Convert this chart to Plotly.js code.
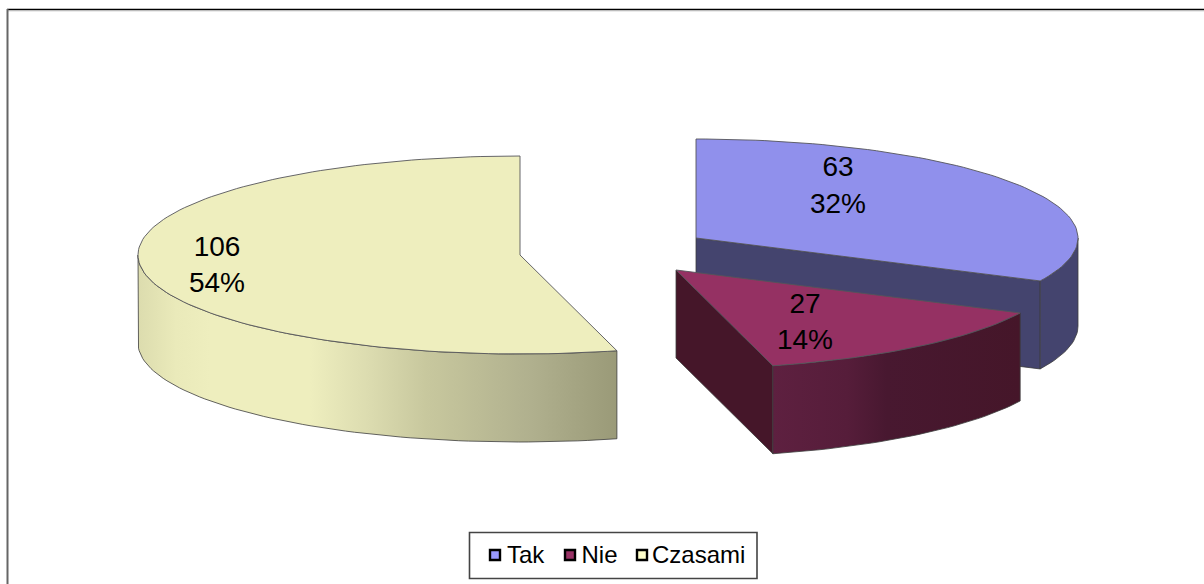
<!DOCTYPE html>
<html><head><meta charset="utf-8">
<script src="https://cdn.plot.ly/plotly-3.0.1.min.js"></script>
<style>html,body{margin:0;padding:0;background:#fff;overflow:hidden}</style>
</head><body><div id="chart" style="width:1204px;height:584px"></div>
<script>
const categories = ["Tak", "Nie", "Czasami"];
const counts = [63, 27, 106];
const topColors = ["#9090ec", "#953163", "#eeeebe"];
const swatchColors = ["#9999ff", "#993366", "#ffffcc"];
const wallColors = ["#44446e", "#451629", "#eeeebe"];

// 3D projection of the pie (pixel-like axis units)
const RX = 382, RY = 99, DEPTH = 88;
const centers = [[696, 238], [676, 270], [520, 255]];
const labelSpots = [[838, 187.5], [805, 324], [217, 267]];
const legendX = [495, 570, 642];
const legendTextX = [507, 581.5, 652];
const legendY = 555;
const legendTextY = 557;
const sideScales = [
  [[0, "#44446e"], [1, "#44446e"]],
  [[0, "#5e2040"], [0.3, "#561d3a"], [0.46, "#481830"], [1, "#451629"]],
  [[0, "#dcdcae"], [0.08, "#eaeaba"], [0.15, "#eeeebe"], [0.36, "#eeeebe"], [0.48, "#dcdcb0"], [0.6, "#c8c89e"], [0.82, "#b0b08e"], [1, "#9a9a78"]]
];

const total = counts.reduce((a, b) => a + b, 0);
const rad = d => d * Math.PI / 180;
const traces = [];
let acc = 0;
const slices = counts.map(v => { const s = acc; acc += v; return [s / total * 360, acc / total * 360]; });
const pt = (i, t, dz) => [centers[i][0] + RX * Math.sin(rad(t)), centers[i][1] - RY * Math.cos(rad(t)) + (dz || 0)];
function arc(i, a, b, dz) {
  const out = [], n = Math.max(2, Math.ceil(Math.abs(b - a) / 1.5));
  for (let k = 0; k <= n; k++) out.push(pt(i, a + (b - a) * k / n, dz));
  return out;
}
function poly(points, extra) {
  traces.push(Object.assign({
    type: "scatter", mode: "lines", x: points.map(p => p[0]), y: points.map(p => p[1]),
    fill: "toself", showlegend: false, hoverinfo: "skip",
    line: { color: "#3c3c3c", width: 0.8 }
  }, extra));
}
function drawSide(i, a, b) {
  const pts = arc(i, a, b, 0).concat(arc(i, b, a, DEPTH));
  pts.push(pts[0]);
  poly(pts, { fillcolor: wallColors[i], fillgradient: { type: "horizontal", colorscale: sideScales[i] } });
}
function drawWall(i, t) {
  const c = centers[i], e = pt(i, t, 0);
  poly([c, e, [e[0], e[1] + DEPTH], [c[0], c[1] + DEPTH], c], { fillcolor: wallColors[i] });
}
function drawTop(i) {
  const pts = [centers[i]].concat(arc(i, slices[i][0], slices[i][1], 0));
  pts.push(centers[i]);
  poly(pts, { fillcolor: topColors[i], line: { color: "#55555a", width: 0.9 } });
}
// paint back to front
drawWall(0, slices[0][1]); drawSide(0, 90, slices[0][1]); drawTop(0);
drawSide(2, slices[2][0], 270); drawTop(2);
drawWall(1, slices[1][1]); drawSide(1, slices[1][0], slices[1][1]); drawTop(1);

traces.push({
  type: "scatter", mode: "text", showlegend: false, hoverinfo: "skip",
  x: labelSpots.map(p => p[0]), y: labelSpots.map(p => p[1]),
  text: counts.map(v => v + "<br>" + Math.round(v / total * 100) + "%"),
  textposition: "middle center",
  textfont: { family: "Liberation Sans, Arial, sans-serif", size: 28, color: "#000" }
});
// legend row
traces.push({
  type: "scatter", mode: "markers", showlegend: false, hoverinfo: "skip",
  x: legendX, y: legendX.map(() => legendY),
  marker: { symbol: "square", size: 10, color: swatchColors, line: { color: "#000", width: 2.4 } }
});
traces.push({
  type: "scatter", mode: "text", showlegend: false, hoverinfo: "skip",
  x: legendTextX, y: legendTextX.map(() => legendTextY), text: categories, textposition: "middle right",
  textfont: { family: "Liberation Sans, Arial, sans-serif", size: 24, color: "#000" }
});

Plotly.newPlot("chart", traces, {
  width: 1204, height: 584, autosize: false,
  margin: { l: 0, r: 0, t: 0, b: 0, autoexpand: false },
  paper_bgcolor: "#fff", plot_bgcolor: "#fff",
  hovermode: false,
  xaxis: { range: [0, 1204], visible: false, fixedrange: true },
  yaxis: { range: [584, 0], visible: false, fixedrange: true },
  showlegend: false,
  shapes: [
    { type: "line", xref: "x", yref: "y", x0: 7, x1: 1204, y0: 9.5, y1: 9.5, line: { color: "#000", width: 1.6 } },
    { type: "line", xref: "x", yref: "y", x0: 7, x1: 1204, y0: 10.8, y1: 10.8, line: { color: "#bbb", width: 1 } },
    { type: "line", xref: "x", yref: "y", x0: 7.5, x1: 7.5, y0: 9, y1: 584, line: { color: "#666", width: 2 } },
    { type: "rect", xref: "x", yref: "y", x0: 469.5, x1: 757, y0: 532.5, y1: 578.5, line: { color: "#444", width: 1.6 } }
  ]
}, { displayModeBar: false, staticPlot: true });
</script></body></html>
